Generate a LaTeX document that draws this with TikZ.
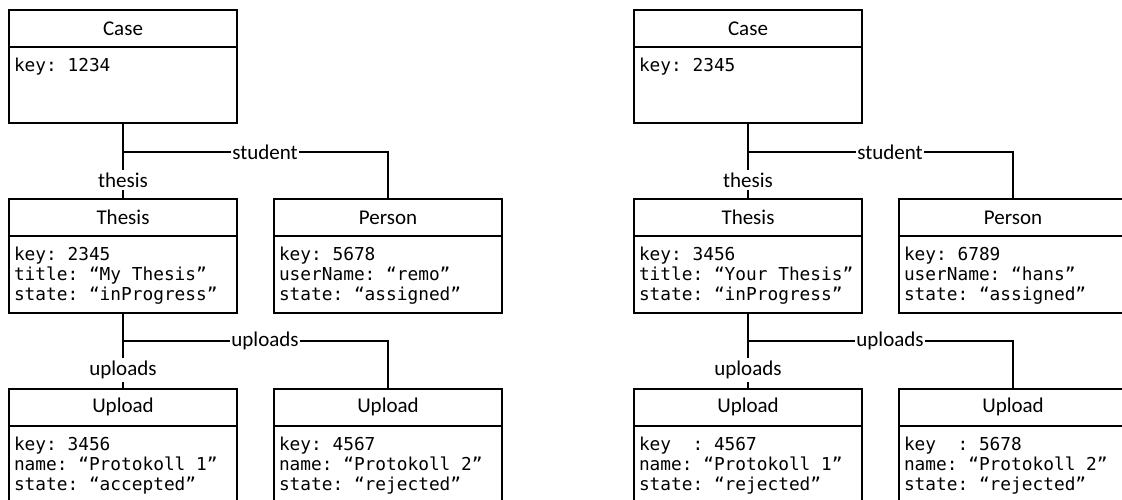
\documentclass[tikz,border=0pt]{standalone}
\usepackage{fontspec}
\setmainfont{Carlito}
\setmonofont{DejaVu Sans Mono}
\usetikzlibrary{positioning}

\begin{document}
\begin{tikzpicture}[x=0.5pt, y=-0.5pt, line width=1pt,
  head/.style={draw, rectangle, minimum width=114pt, minimum height=18.5pt, inner sep=0pt, outer sep=0pt, font=\fontsize{10.5}{12}\selectfont},
  body/.style={draw, rectangle, minimum width=114pt, anchor=north, inner sep=0pt, outer sep=0pt},
  attrs/.style={anchor=north west, align=left, inner xsep=2pt, inner ysep=5pt, font=\ttfamily\fontsize{8.9}{10}\selectfont},
  role/.style={fill=white, inner xsep=0.5pt, inner ysep=1.5pt, font=\fontsize{10.5}{12}\selectfont}]
\clip (0,0) rectangle (1122,499);
%
% --- Left objects ---
\node[head] (caseA) at (123,28.5) {Case};
\node[body, minimum height=38pt] (caseAbody) at (caseA.south) {};
\node[attrs] (caseAattr) at (caseAbody.north west) {key: 1234};
\node[head] (thesisA) at (123,217.5) {Thesis};
\node[body, minimum height=38.5pt] (thesisAbody) at (thesisA.south) {};
\node[attrs] (thesisAattr) at (thesisAbody.north west) {key: 2345\\title: “My Thesis”\\state: “inProgress”};
\node[head] (personA) at (388,217.5) {Person};
\node[body, minimum height=38.5pt] (personAbody) at (personA.south) {};
\node[attrs] (personAattr) at (personAbody.north west) {key: 5678\\userName: “remo”\\state: “assigned”};
\node[head] (uploadA1) at (123,407) {Upload};
\node[body, minimum height=60pt] (uploadA1body) at (uploadA1.south) {};
\node[attrs] (uploadA1attr) at (uploadA1body.north west) {key: 3456\\name: “Protokoll 1”\\state: “accepted”};
\node[head] (uploadA2) at (388,407) {Upload};
\node[body, minimum height=60pt] (uploadA2body) at (uploadA2.south) {};
\node[attrs] (uploadA2attr) at (uploadA2body.north west) {key: 4567\\name: “Protokoll 2”\\state: “rejected”};
%
% --- Left links ---
\coordinate (forkA1) at (123,152);
\coordinate (forkA2) at (123,341);
\draw (caseAbody.south) -- node[role, pos=0.75] {thesis} (thesisA.north);
\draw (forkA1) -| node[role, pos=0.268] {student} (personA.north);
\draw (thesisAbody.south) -- node[role, pos=0.755] {uploads} (uploadA1.north);
\draw (forkA2) -| node[role, pos=0.268] {uploads} (uploadA2.north);
%
% --- Right objects ---
\node[head] (caseB) at (748,28.5) {Case};
\node[body, minimum height=38pt] (caseBbody) at (caseB.south) {};
\node[attrs] (caseBattr) at (caseBbody.north west) {key: 2345};
\node[head] (thesisB) at (748,217.5) {Thesis};
\node[body, minimum height=38.5pt] (thesisBbody) at (thesisB.south) {};
\node[attrs] (thesisBattr) at (thesisBbody.north west) {key: 3456\\title: “Your Thesis”\\state: “inProgress”};
\node[head] (personB) at (1013,217.5) {Person};
\node[body, minimum height=38.5pt] (personBbody) at (personB.south) {};
\node[attrs] (personBattr) at (personBbody.north west) {key: 6789\\userName: “hans”\\state: “assigned”};
\node[head] (uploadB1) at (748,407) {Upload};
\node[body, minimum height=60pt] (uploadB1body) at (uploadB1.south) {};
\node[attrs] (uploadB1attr) at (uploadB1body.north west) {key\ \ : 4567\\name: “Protokoll 1”\\state: “rejected”};
\node[head] (uploadB2) at (1013,407) {Upload};
\node[body, minimum height=60pt] (uploadB2body) at (uploadB2.south) {};
\node[attrs] (uploadB2attr) at (uploadB2body.north west) {key\ \ : 5678\\name: “Protokoll 2”\\state: “rejected”};
%
% --- Right links ---
\coordinate (forkB1) at (748,152);
\coordinate (forkB2) at (748,341);
\draw (caseBbody.south) -- node[role, pos=0.75] {thesis} (thesisB.north);
\draw (forkB1) -| node[role, pos=0.268] {student} (personB.north);
\draw (thesisBbody.south) -- node[role, pos=0.755] {uploads} (uploadB1.north);
\draw (forkB2) -| node[role, pos=0.268] {uploads} (uploadB2.north);
%
\end{tikzpicture}
\end{document}
